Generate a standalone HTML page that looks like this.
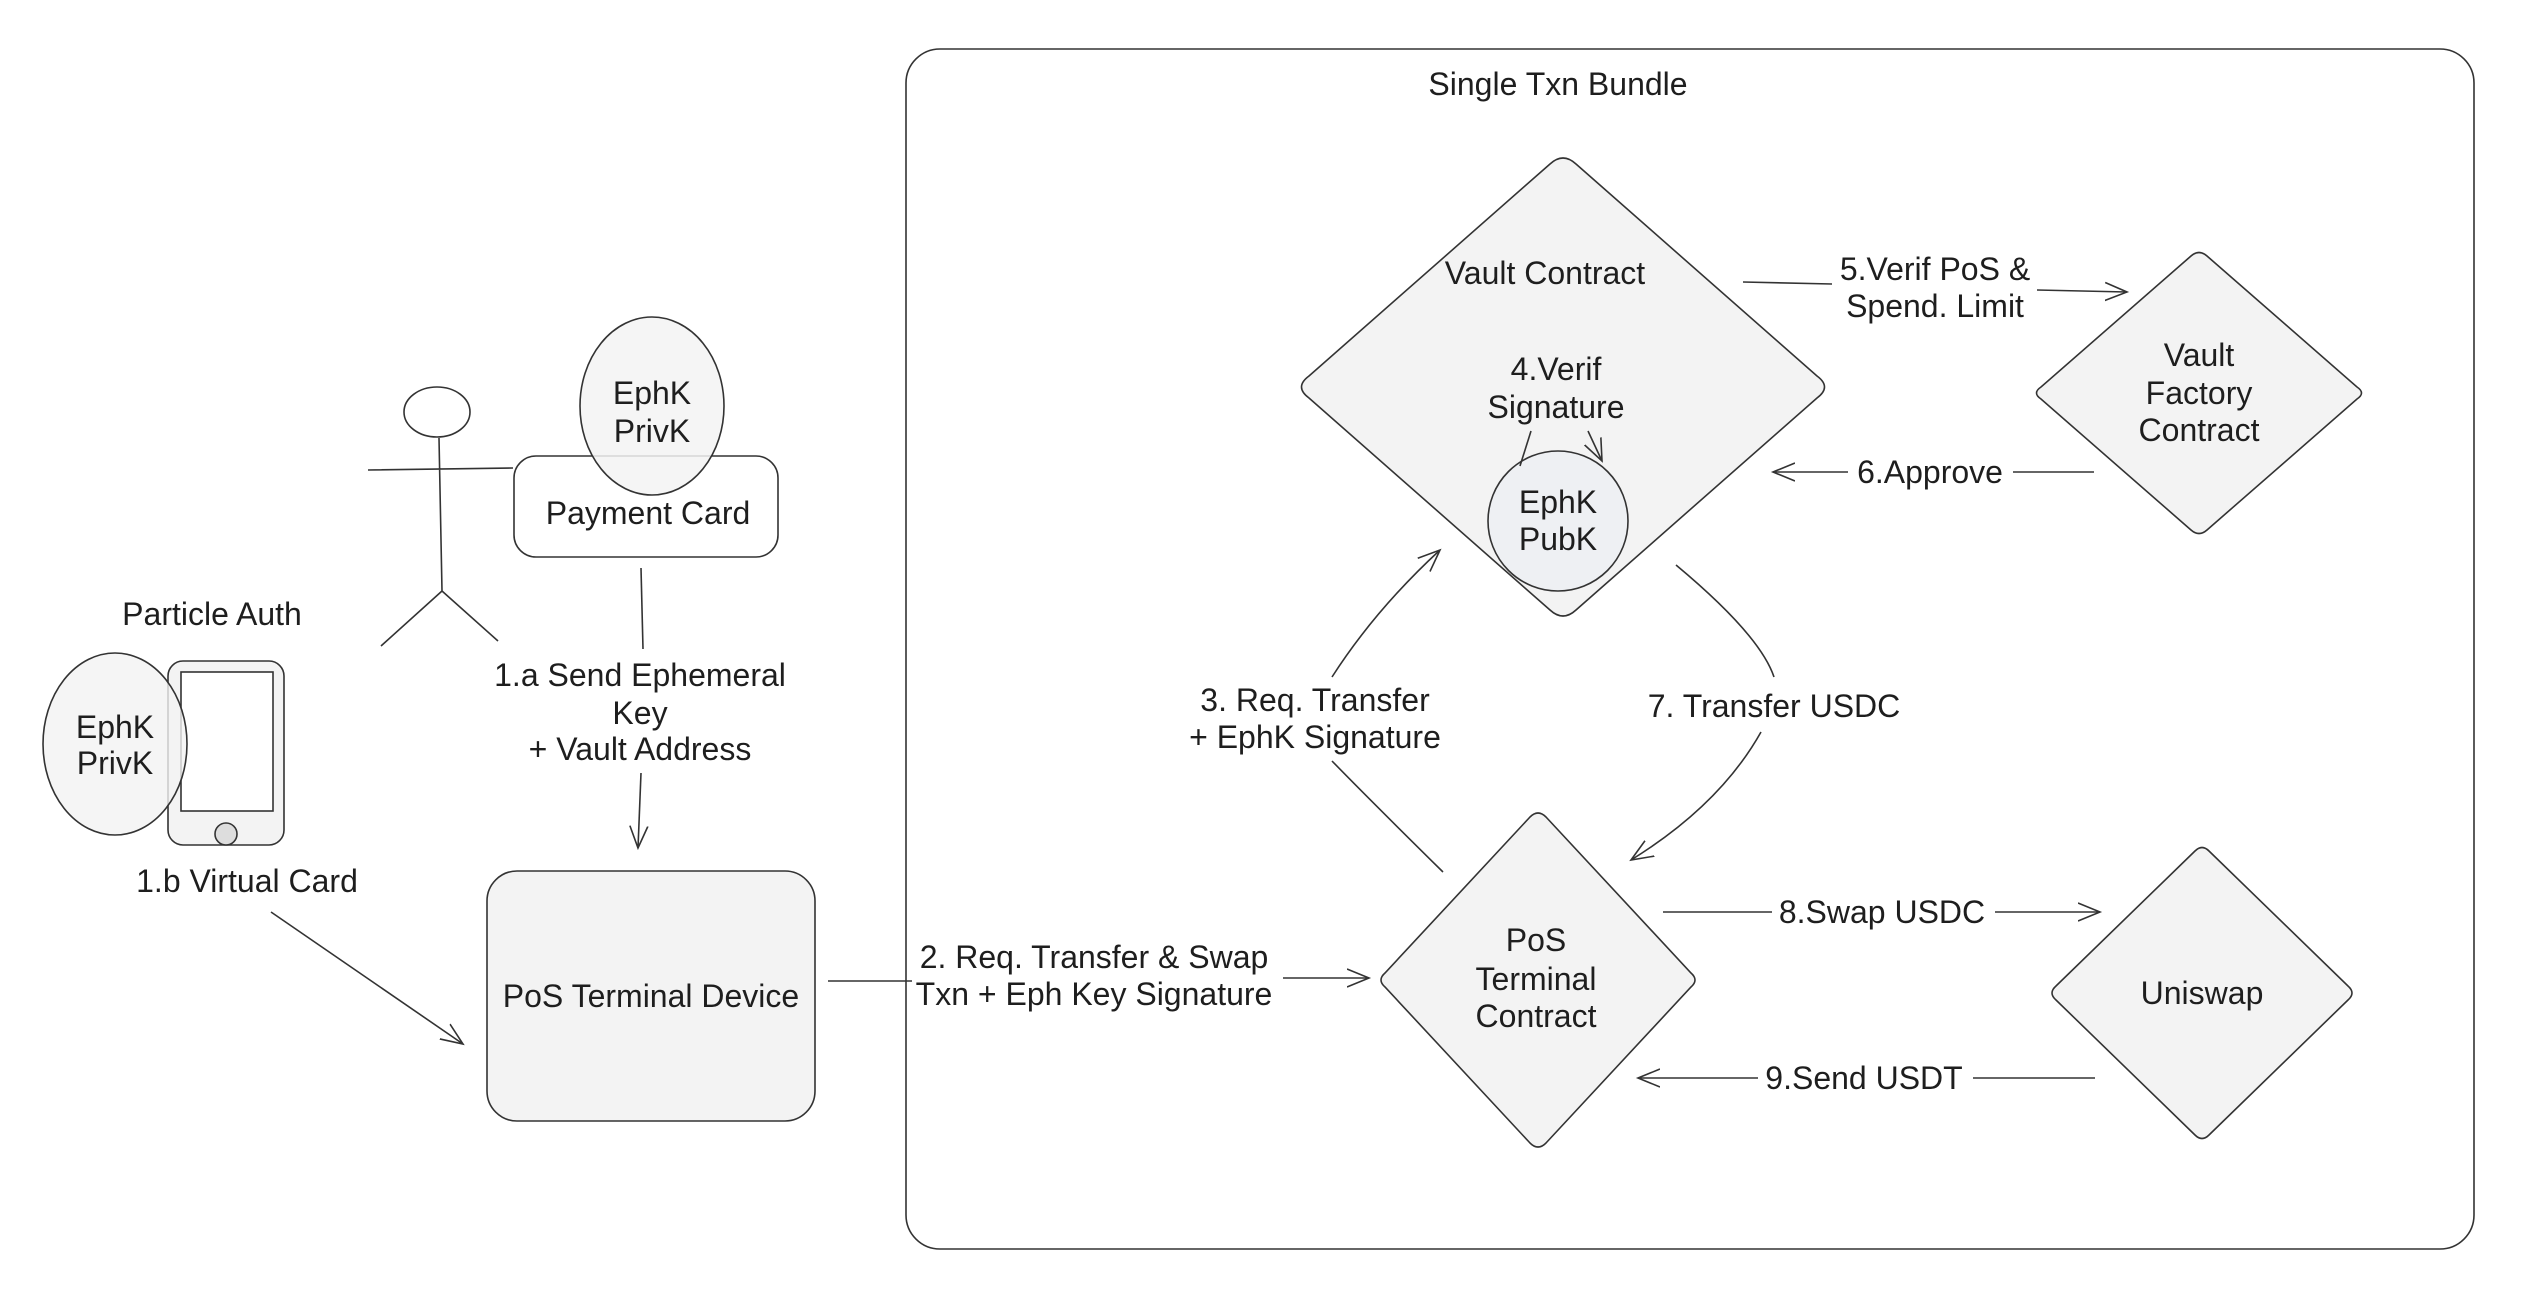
<!DOCTYPE html>
<html><head><meta charset="utf-8"><style>
html,body{margin:0;padding:0;background:#fff;}
svg{display:block;}
text{font-family:"Liberation Sans",Helvetica,sans-serif;font-size:32px;fill:#1e1e1e;text-anchor:middle;}
</style></head><body>
<svg width="2540" height="1306" viewBox="0 0 2540 1306" xmlns="http://www.w3.org/2000/svg">
<defs>
<marker id="a" markerUnits="userSpaceOnUse" markerWidth="30" markerHeight="30" refX="22" refY="10" orient="auto" viewBox="0 0 30 20">
<path d="M0,1 L22,10 L0,19" fill="none" stroke="#333" stroke-width="1.6"/>
</marker>
</defs>
<g fill="none" stroke="#333" stroke-width="1.6">
<rect x="906" y="49" width="1568" height="1200" rx="34" fill="#fff"/>
<path fill="#f3f3f3" d="M1576,164 L1817,376 Q1832,387 1817,398 L1576,610 Q1563,622 1550,610 L1309,398 Q1294,387 1309,376 L1550,164 Q1563,152 1576,164Z"/>
<path fill="#f3f3f3" d="M2207,256 L2357,387 Q2366,393 2357,399 L2207,530 Q2199,537 2191,530 L2041,399 Q2032,393 2041,387 L2191,256 Q2199,249 2207,256Z"/>
<path fill="#f3f3f3" d="M1546,817 L1691,973 Q1699,980 1691,987 L1546,1143 Q1538,1151 1530,1143 L1385,987 Q1377,980 1385,973 L1530,817 Q1538,809 1546,817Z"/>
<path fill="#f3f3f3" d="M2209,851 L2348,986 Q2356,993 2348,1000 L2209,1135 Q2202,1142 2195,1135 L2056,1000 Q2048,993 2056,986 L2195,851 Q2202,844 2209,851Z"/>
<circle cx="1558" cy="521" r="70" fill="#eef0f3"/>
<path d="M1531,431 L1520,466"/>
<path d="M1588,431 L1602,461" marker-end="url(#a)"/>
<path d="M1743,282 L1832,284"/>
<path d="M2037,290 L2127,292" marker-end="url(#a)"/>
<path d="M2094,472 L2013,472"/>
<path d="M1848,472 L1773,472" marker-end="url(#a)"/>
<path d="M1663,912 L1772,912"/>
<path d="M1995,912 L2100,912" marker-end="url(#a)"/>
<path d="M2095,1078 L1973,1078"/>
<path d="M1758,1078 L1638,1078" marker-end="url(#a)"/>
<path d="M1443,872 Q1370,800 1332,761"/>
<path d="M1332,677 Q1375,610 1440,550" marker-end="url(#a)"/>
<path d="M1676,565 Q1760,635 1774,677"/>
<path d="M1761,732 Q1720,805 1631,860" marker-end="url(#a)"/>
<path d="M828,981 L912,981"/>
<path d="M1283,978 L1369,978" marker-end="url(#a)"/>
<rect x="487" y="871" width="328" height="250" rx="30" fill="#f3f3f3"/>
<rect x="514" y="456" width="264" height="101" rx="22" fill="#fff"/>
<ellipse cx="652" cy="406" rx="72" ry="89" fill="#f3f3f3" fill-opacity="0.85"/>
<ellipse cx="437" cy="412" rx="33" ry="25" fill="#fff"/>
<path d="M439,438 L442,591 M368,470 L513,468 M442,591 L381,646 M442,591 L498,641"/>
<path d="M641,568 L643,649"/>
<path d="M641,773 L638,848" marker-end="url(#a)"/>
<path d="M271,912 L463,1044" marker-end="url(#a)"/>
<rect x="168" y="661" width="116" height="184" rx="15" fill="#f3f3f3"/>
<rect x="181" y="672" width="92" height="139" fill="#fff"/>
<circle cx="226" cy="834" r="11" fill="#ddd"/>
<ellipse cx="115" cy="744" rx="72" ry="91" fill="#f3f3f3" fill-opacity="0.8"/>
</g>
<text x="1558" y="95">Single Txn Bundle</text>
<text x="1545" y="284">Vault Contract</text>
<text x="1556" y="380">4.Verif</text>
<text x="1556" y="418">Signature</text>
<text x="1558" y="513">EphK</text>
<text x="1558" y="550">PubK</text>
<text x="1935" y="280">5.Verif PoS &amp;</text>
<text x="1935" y="317">Spend. Limit</text>
<text x="2199" y="366">Vault</text>
<text x="2199" y="404">Factory</text>
<text x="2199" y="441">Contract</text>
<text x="1930" y="483">6.Approve</text>
<text x="1315" y="711">3. Req. Transfer</text>
<text x="1315" y="748">+ EphK Signature</text>
<text x="1774" y="717">7. Transfer USDC</text>
<text x="1536" y="951">PoS</text>
<text x="1536" y="990">Terminal</text>
<text x="1536" y="1027">Contract</text>
<text x="2202" y="1004">Uniswap</text>
<text x="1882" y="923">8.Swap USDC</text>
<text x="1864" y="1089">9.Send USDT</text>
<text x="1094" y="968">2. Req. Transfer &amp; Swap</text>
<text x="1094" y="1005">Txn + Eph Key Signature</text>
<text x="651" y="1007">PoS Terminal Device</text>
<text x="648" y="524">Payment Card</text>
<text x="652" y="404">EphK</text>
<text x="652" y="442">PrivK</text>
<text x="640" y="686">1.a Send Ephemeral</text>
<text x="640" y="724">Key</text>
<text x="640" y="760">+ Vault Address</text>
<text x="212" y="625">Particle Auth</text>
<text x="115" y="738">EphK</text>
<text x="115" y="774">PrivK</text>
<text x="247" y="892">1.b Virtual Card</text>
</svg>
</body></html>
